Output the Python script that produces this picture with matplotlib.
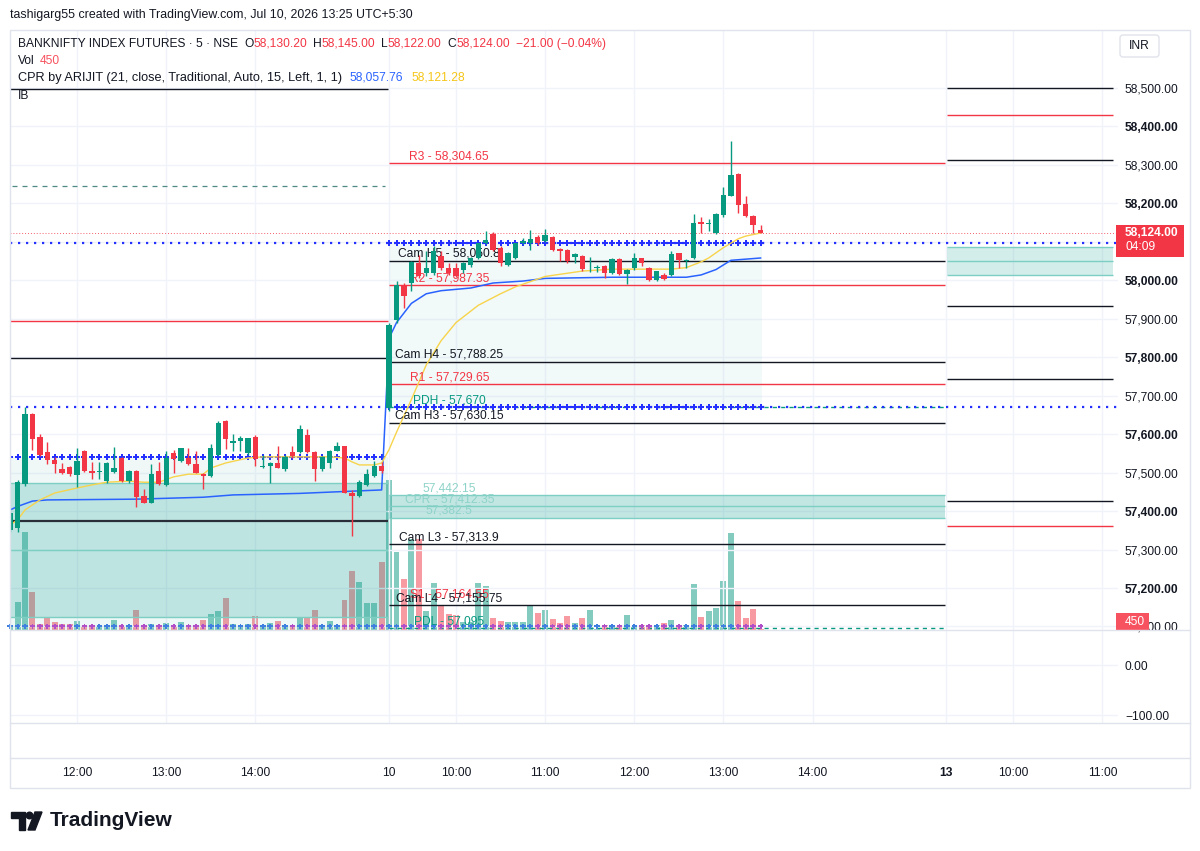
"""
BANKNIFTY futures 5-min chart (TradingView style) - recreated with matplotlib
"""

import matplotlib.pyplot as plt
from matplotlib.patches import Rectangle, FancyBboxPatch, Polygon, Circle
from matplotlib.transforms import blended_transform_factory
import numpy as np

plt.rcParams['font.family'] = ['Liberation Sans', 'DejaVu Sans']

# ---------------- data ----------------
# day 1 (Jul 9) 11:15 .. 15:25, day 2 (Jul 10) 09:15 .. 13:25
d1_open = [57351, 57355, 57470, 57652, 57593, 57553, 57533, 57509, 57514, 57494,
           57557, 57505, 57501, 57477, 57501, 57539, 57477, 57504, 57439, 57422,
           57503, 57468, 57550, 57529, 57539, 57522, 57496, 57491, 57546, 57635,
           57576, 57581, 57550, 57592, 57514, 57516, 57526, 57509, 57553, 57553,
           57599, 57553, 57509, 57524, 57557, 57568, 57448, 57439, 57468, 57491, 57517]
d1_high = [57398, 57480, 57670, 57655, 57600, 57580, 57540, 57525, 57518, 57563,
           57560, 57527, 57528, 57528, 57566, 57541, 57506, 57506, 57457, 57522,
           57527, 57556, 57558, 57565, 57563, 57555, 57498, 57575, 57633, 57638,
           57600, 57595, 57591, 57597, 57547, 57527, 57569, 57545, 57569, 57623,
           57613, 57555, 57542, 57560, 57579, 57570, 57455, 57480, 57509, 57531, 57528]
d1_low = [57345, 57345, 57465, 57559, 57544, 57522, 57500, 57497, 57491, 57463,
          57502, 57483, 57483, 57473, 57500, 57475, 57473, 57410, 57420, 57420,
          57468, 57466, 57498, 57527, 57520, 57498, 57457, 57489, 57544, 57561,
          57555, 57555, 57547, 57516, 57512, 57472, 57511, 57505, 57538, 57550,
          57551, 57479, 57505, 57511, 57555, 57446, 57335, 57437, 57466, 57489, 57500]
d1_close = [57395, 57476, 57652, 57587, 57546, 57533, 57522, 57500, 57496, 57531,
            57504, 57500, 57504, 57524, 57511, 57477, 57504, 57437, 57422, 57496,
            57470, 57539, 57535, 57563, 57522, 57500, 57491, 57565, 57628, 57587,
            57582, 57591, 57589, 57535, 57518, 57524, 57513, 57540, 57544, 57613,
            57553, 57509, 57540, 57557, 57568, 57448, 57438, 57476, 57496, 57517, 57504]
d1_volume = [900, 8400, 29400, 11400, 1800, 3600, 2400, 1800, 1800, 2700,
             900, 1200, 900, 1200, 3000, 1200, 1500, 6000, 1500, 1800,
             900, 2100, 1200, 2400, 900, 1200, 3000, 4800, 5700, 9600,
             1800, 1500, 1800, 4200, 1200, 2100, 2700, 1200, 1500, 3600,
             3900, 6000, 1500, 2700, 1200, 9000, 17700, 14400, 8100, 8100, 20400]

d2_open = [57668, 57897, 57988, 57992, 58044, 58018, 58018, 58064, 58031, 58033,
           58027, 58040, 58057, 58096, 58120, 58083, 58040, 58057, 58096, 58096,
           58113, 58101, 58113, 58081, 58079, 58060, 58062, 58031, 58033, 58038,
           58018, 58055, 58016, 58031, 58057, 58033, 58001, 58014, 58014, 58070,
           58050, 58057, 58151, 58147, 58122, 58170, 58220, 58276, 58198, 58166, 58130]
d2_high = [57890, 57997, 57992, 58050, 58066, 58075, 58090, 58075, 58044, 58044,
           58048, 58060, 58098, 58127, 58125, 58088, 58073, 58098, 58110, 58131,
           58118, 58133, 58116, 58083, 58081, 58072, 58065, 58061, 58040, 58040,
           58058, 58058, 58030, 58070, 58059, 58035, 58025, 58018, 58076, 58072,
           58055, 58172, 58164, 58159, 58176, 58242, 58361, 58278, 58219, 58170, 58145]
d2_low = [57660, 57890, 57927, 57971, 58005, 58010, 58015, 58028, 58015, 58008,
          58018, 58035, 58055, 58094, 58075, 58036, 58037, 58055, 58094, 58079,
          58092, 58099, 58076, 58049, 58046, 58044, 58025, 58021, 58022, 58007,
          58016, 58014, 57990, 58028, 58036, 57998, 57998, 58001, 58012, 58033,
          58033, 58055, 58122, 58127, 58120, 58165, 58218, 58174, 58164, 58122, 58122]
d2_close = [57884, 57988, 57958, 58047, 58010, 58031, 58075, 58031, 58018, 58012,
            58044, 58057, 58096, 58105, 58079, 58044, 58070, 58096, 58101, 58108,
            58096, 58118, 58079, 58077, 58049, 58068, 58030, 58033, 58035, 58018,
            58055, 58016, 58027, 58059, 58044, 58001, 58023, 58003, 58068, 58053,
            58053, 58148, 58147, 58150, 58172, 58222, 58274, 58196, 58166, 58144, 58124]
d2_volume = [45000, 23400, 15300, 27300, 27300, 5700, 14100, 7200, 4800, 4500,
             2400, 2400, 14100, 13200, 3600, 2700, 2400, 2400, 2400, 7200,
             5100, 6000, 3300, 2100, 4200, 2100, 3600, 6000, 300, 1500,
             1200, 900, 4500, 1200, 1500, 900, 1500, 2100, 3000, 1200,
             1500, 13800, 3900, 5700, 6600, 14700, 29100, 8700, 3600, 6300, 450]

# indicator lines, read at (bar, value)
vwap_bar = [0, 1, 3, 5, 17, 26, 30, 39, 50, 51, 52, 53, 54, 56, 58, 62, 65, 69, 72,
            81, 91, 93, 95, 96, 97, 99, 101]
vwap_val = [57403, 57412, 57426, 57429, 57431, 57436, 57442, 57446, 57455, 57850,
            57890, 57915, 57940, 57965, 57973, 57980, 57993, 57998, 58005, 58008,
            58008, 58014, 58028, 58040, 58052, 58055, 58058]
ema_bar = [0, 1, 2, 4, 6, 9, 11, 13, 16, 18, 20, 22, 24, 26, 27, 29, 32, 34, 38, 43,
           45, 46, 47, 49, 50, 51, 52, 54, 56, 58, 60, 63, 66, 68, 72, 77, 81, 89,
           91, 93, 94, 96, 98, 99, 101]
ema_val = [57364, 57377, 57403, 57429, 57447, 57460, 57468, 57475, 57478, 57475,
           57475, 57489, 57496, 57496, 57512, 57525, 57538, 57541, 57541, 57541,
           57538, 57528, 57520, 57520, 57525, 57560, 57605, 57690, 57780, 57843,
           57890, 57935, 57965, 57983, 58010, 58024, 58029, 58029, 58033, 58048,
           58058, 58085, 58108, 58115, 58123]

# levels
d1_black = [58497, 57798]
d1_red = [57894]
d1_dashed = 58245
d1_base = 57374
d1_zone = [57125, 57299, 57473]
d1_cross = 57541
d2_cross = [58097, 57670]
last_price = 58124

cam_names = ['Cam H5', 'Cam H4', 'Cam H3', 'Cam L3', 'Cam L4']
cam_values = [58050.8, 57788.25, 57630.15, 57313.9, 57155.75]
piv_names = ['R3', 'R2', 'R1']
piv_values = [58304.65, 57987.35, 57729.65]
s1_value = 57164.55
cpr_values = [57442.15, 57412.35, 57382.5]
pdh, pdl = 57670, 57095

d3_black = [58499, 58313, 57932, 57743, 57427]
d3_red = [58430, 57361]
d3_cpr = [58086, 58049, 58014]

price_ticks = list(range(57100, 58501, 100))
time_ticks = [9, 21, 33, 51, 60, 72, 84, 96, 108, 126, 135, 147]
time_labels = ['12:00', '13:00', '14:00', '10', '10:00', '11:00', '12:00', '13:00',
               '14:00', '13', '10:00', '11:00']

# ---------------- style ----------------
W, H = 1200, 851
TEXT = '#131722'
GRID = '#f0f3fa'
BORDER = '#e0e3eb'
UP = '#089981'
DOWN = '#f23645'
BLUE = '#2962ff'
DOT_BLUE = '#2430ff'
TEAL = '#26a69a'
FS = 8.64


def rect(x0, y0, x1, y1):
    return [x0 / W, 1 - y1 / H, (x1 - x0) / W, (y1 - y0) / H]


fig = plt.figure(figsize=(W / 100, H / 100), dpi=100)
fig.patch.set_facecolor('white')

ax_vol = fig.add_axes(rect(10, 30, 1118, 630))
ax = fig.add_axes(rect(10, 30, 1118, 630), sharex=ax_vol)
ax.patch.set_visible(False)
ax_low = fig.add_axes(rect(10, 630, 1118, 723), sharex=ax_vol)
ax_time = fig.add_axes(rect(10, 758, 1118, 788), sharex=ax_vol)

for a in (ax_vol, ax, ax_low, ax_time):
    for s in a.spines.values():
        s.set_visible(False)
    a.tick_params(axis='x', length=0, labelbottom=False)

ax_vol.set_xlim(-0.02, 149.1)
ax.set_ylim(57090.8, 58650.8)
ax_vol.set_ylim(0, 180000)

# bar positions
g1 = np.arange(len(d1_open))
g2 = np.arange(len(d2_open)) + 51
g = np.concatenate([g1, g2])
o = np.array(d1_open + d2_open, dtype=float)
hi = np.array(d1_high + d2_high, dtype=float)
lo = np.array(d1_low + d2_low, dtype=float)
c = np.array(d1_close + d2_close, dtype=float)
vol = np.array(d1_volume + d2_volume, dtype=float)
up = c >= o
col = np.where(up, UP, DOWN)

# grid
ax_vol.set_xticks(time_ticks)
ax_vol.grid(axis='x', color=GRID, lw=1)
ax_vol.set_yticks([])
ax.set_yticks(price_ticks)
ax.grid(axis='y', color=GRID, lw=1)
ax.grid(axis='x', visible=False)
ax.set_axisbelow(True)

# volume
ax_vol.bar(g, vol, width=0.8, color=col, alpha=0.5, lw=0)

# zones (translucent so the volume shows through)
ax.fill_between([-0.02, 50.9], 57000, d1_zone[0], color=TEAL, alpha=0.08, lw=0, zorder=0.6)
ax.fill_between([-0.02, 50.9], d1_zone[0], d1_zone[2], color=TEAL, alpha=0.3, lw=0, zorder=0.7)
ax.fill_between([-0.02, 50.9], d1_zone[2], d1_cross, color=TEAL, alpha=0.07, lw=0, zorder=0.6)
ax.hlines(d1_zone, -0.02, 50.9, colors='#7ccfc2', lw=1, zorder=0.8)
ax.fill_between([50.95, 101.2], d2_cross[1], d2_cross[0], color=TEAL, alpha=0.06, lw=0, zorder=0.6)
ax.fill_between([50.95, 125.8], cpr_values[2], cpr_values[0], color=TEAL, alpha=0.28, lw=0, zorder=0.7)
ax.hlines(cpr_values, 50.95, 125.8, colors='#7ccfc2', lw=1, zorder=0.8)
ax.fill_between([126.05, 148.4], d3_cpr[2], d3_cpr[0], color=TEAL, alpha=0.2, lw=0, zorder=0.7)
ax.hlines(d3_cpr, 126.05, 148.4, colors='#7ccfc2', lw=1, zorder=0.8)

# day 1 levels
ax.hlines(d1_black, -0.02, 50.9, colors=TEXT, lw=1, zorder=1)
ax.hlines(d1_red, -0.02, 50.9, colors=DOWN, lw=1, zorder=1)
ax.hlines(d1_base, -0.02, 50.9, colors='#2a2e39', lw=1.6, zorder=1)
ax.hlines(d1_dashed, 0.2, 50.5, colors='#4f8a84', lw=0.9, linestyles=(0, (4, 4)), zorder=1)

# day 2 levels
ax.hlines(cam_values, 50.95, 125.8, colors=TEXT, lw=1, zorder=1)
ax.hlines(piv_values, 50.95, 125.8, colors=DOWN, lw=1, zorder=1)
ax.hlines([pdh, pdl], 50.95, 125.8, colors=UP, lw=1, linestyles=(0, (3, 3)), zorder=1)

# day 3 levels
ax.hlines(d3_black, 126.05, 148.4, colors=TEXT, lw=1, zorder=1)
ax.hlines(d3_red, 126.05, 148.4, colors=DOWN, lw=1, zorder=1)

# dotted reference lines
for p in d2_cross:
    ax.axhline(p, color=DOT_BLUE, lw=1.6, linestyle=(0, (1, 2.6)), zorder=1.5)
ax.axhline(last_price, color=DOWN, lw=0.7, linestyle=(0, (1, 2)), alpha=0.8, zorder=1.5)

# cross markers
ax.plot(g1, np.full(len(g1), d1_cross), 'P', ms=5, color=DOT_BLUE, mew=0, zorder=2)
for p in d2_cross:
    ax.plot(g2, np.full(len(g2), p), 'P', ms=5, color=DOT_BLUE, mew=0, zorder=2)
bottom = blended_transform_factory(ax.transData, ax.transAxes)
ax.scatter(g, np.full(len(g), 0.006), marker='P', s=16, lw=0,
           c=np.where(up, '#3f7fe0', '#b04fc8'), transform=bottom, zorder=2, clip_on=False)

# level labels (drawn under the candles)
LABEL_G = 59.1
lab_kw = dict(ha='center', va='bottom', fontsize=FS, zorder=2.6,
              textcoords='offset points', xytext=(0, 0.6))
ax.annotate(f'S1 - {s1_value:,.2f}', (LABEL_G, s1_value), color=DOWN, **lab_kw)
for n, v in zip(cam_names, cam_values):
    ax.annotate(f'{n} - {v:,.2f}'.rstrip('0'), (LABEL_G, v), color=TEXT, **lab_kw)
for n, v in zip(piv_names, piv_values):
    ax.annotate(f'{n} - {v:,.2f}', (LABEL_G, v), color=DOWN, **lab_kw)
ax.annotate(f'PDH - {pdh:,}', (LABEL_G, pdh), color=UP, **lab_kw)
ax.annotate(f'PDL - {pdl:,}', (LABEL_G, pdl), color=UP, **lab_kw)
ax.annotate(f'{cpr_values[0]:,.2f}', (LABEL_G, cpr_values[0]), color='#8ed3c9', **lab_kw)
ax.annotate(f'CPR - {cpr_values[1]:,.2f}', (LABEL_G, cpr_values[1]), color='#8ed3c9', **lab_kw)
ax.annotate(f'{cpr_values[2]:,.1f}', (LABEL_G, cpr_values[2]), color='#8ed3c9', **lab_kw)

# indicator lines
ax.plot(vwap_bar, vwap_val, color=BLUE, lw=1.1, zorder=2.5)
ax.plot(ema_bar, ema_val, color='#f7d44c', lw=1.0, zorder=2.5)

# candles
ax.vlines(g, lo, hi, colors=col, lw=1, zorder=3)
ax.bar(g, np.maximum(np.abs(c - o), 1.5), bottom=np.minimum(o, c), width=0.72,
       color=col, lw=0, zorder=3.1)

# price scale (58,100 sits under the last-price badge)
ax.yaxis.tick_right()
ax.tick_params(axis='y', length=0, pad=5, labelsize=FS, labelcolor=TEXT)
ax.set_yticklabels(['' if v == 58100 else f'{v:,.2f}' for v in price_ticks])
for v, lab in zip(price_ticks, ax.get_yticklabels()):
    if v % 200 == 0:
        lab.set_fontweight('bold')

# lower pane
ax_low.set_ylim(-116, 70)
ax_low.set_yticks([0, -100])
ax_low.yaxis.tick_right()
ax_low.set_yticklabels(['0.00', '\u2212100.00'])
ax_low.tick_params(axis='y', length=0, pad=5, labelsize=FS, labelcolor=TEXT)
ax_low.grid(True, color=GRID, lw=1)

# time axis
ax_time.axis('off')
tt = blended_transform_factory(ax_time.transData, ax_time.transAxes)
for t, lab in zip(time_ticks, time_labels):
    ax_time.text(t, 0.5, lab, transform=tt, ha='center', va='center', fontsize=FS,
                 color=TEXT, fontweight='bold' if lab == '13' else 'normal', clip_on=True)

# ---------------- overlay (pixel coordinates) ----------------
ov = fig.add_axes([0, 0, 1, 1])
ov.set_xlim(0, W)
ov.set_ylim(H, 0)
ov.axis('off')
ov.patch.set_visible(False)

ov.add_patch(Rectangle((10, 30), 1180, 758, fill=False, edgecolor=BORDER, lw=1))
for yy in (630, 723, 758):
    ov.plot([10, 1190], [yy, yy], color=BORDER, lw=1)

ov.text(10, 15, 'tashigarg55 created with TradingView.com, Jul 10, 2026 13:25 UTC+5:30',
        fontsize=8.9, color=TEXT, va='center')

# legend line 1: segments placed one after another
renderer = fig.canvas.get_renderer()
legend1 = [('BANKNIFTY INDEX FUTURES \u00b7 5 \u00b7 NSE', TEXT, 6), ('O', TEXT, 0),
           ('58,130.20', DOWN, 6), ('H', TEXT, 0), ('58,145.00', DOWN, 6),
           ('L', TEXT, 0), ('58,122.00', DOWN, 6), ('C', TEXT, 0),
           ('58,124.00', DOWN, 6), ('\u221221.00 (\u22120.04%)', DOWN, 0)]
x = 18
for s, cc, gap in legend1:
    t = ov.text(x, 44, s, fontsize=FS, color=cc, va='center')
    x += t.get_window_extent(renderer=renderer).width + gap

ov.text(18, 61, 'Vol', fontsize=FS, color=TEXT, va='center')
ov.text(40, 61, '450', fontsize=FS, color='#f7525f', va='center')
ov.text(18, 78, 'CPR by ARIJIT (21, close, Traditional, Auto, 15, Left, 1, 1)',
        fontsize=9.2, color=TEXT, va='center')
ov.text(350, 78, '58,057.76', fontsize=FS, color=BLUE, va='center')
ov.text(412, 78, '58,121.28', fontsize=FS, color='#f5c518', va='center')
ov.text(18, 96, 'IB', fontsize=FS, color=TEXT, va='center')

# INR box
ov.add_patch(FancyBboxPatch((1120, 35), 39, 22, boxstyle='round,pad=0,rounding_size=3',
                            facecolor='white', edgecolor=BORDER, lw=1))
ov.text(1139, 46, 'INR', fontsize=FS, color=TEXT, ha='center', va='center')

# last price badge
ov.add_patch(Rectangle((1116, 225), 68, 32, facecolor=DOWN, edgecolor='none'))
ov.text(1125, 233, '58,124.00', fontsize=FS, color='white', va='center', fontweight='bold')
ov.text(1125, 247, '04:09', fontsize=FS, color='white', va='center')
# volume badge
ov.add_patch(Rectangle((1116, 613), 33, 18, facecolor='#f7525f', edgecolor='none'))
ov.text(1125, 622, '450', fontsize=FS, color='white', va='center')

# TradingView logo
ov.add_patch(Polygon([(11, 812), (25, 812), (25, 830), (19, 830), (19, 818), (11, 818)],
                     closed=True, color=TEXT))
ov.add_patch(Circle((29.5, 815.5), 3.3, color=TEXT))
ov.add_patch(Polygon([(35, 812), (42, 812), (35, 830), (28, 830)], closed=True, color=TEXT))
ov.text(50, 821, 'TradingView', fontsize=15, fontweight='bold', color=TEXT, va='center')

fig.savefig('out.png', dpi=100, facecolor='white')
